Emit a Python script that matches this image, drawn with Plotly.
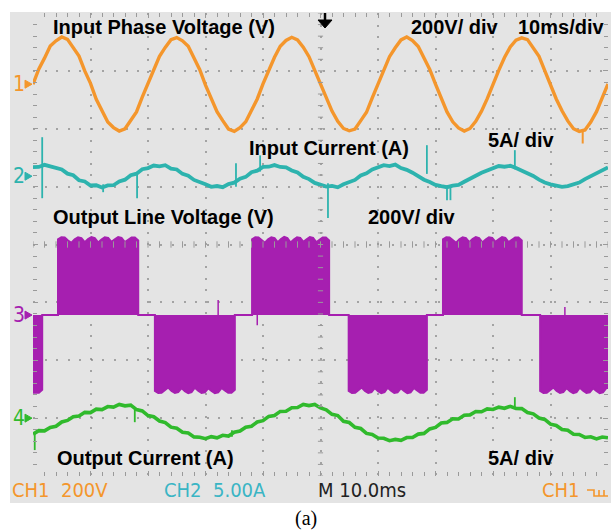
import plotly.graph_objects as go

# ---------------- data ----------------
t_ms = list(range(0, 101))  # 1 ms samples, 10 ms/div x 10 div

ch1_volts = [
    0, 52, 90, 132, 150, 163, 155, 126, 97, 46, 3, -52, -91, -131, -150, -162, -154, -127, -96, -45,
    2, 51, 96, 127, 154, 161, 150, 131, 92, 50, -3, -47, -95, -126, -155, -163, -150, -130, -91, -51,
    1, 47, 93, 131, 151, 162, 153, 128, 95, 48, 2, -50, -93, -128, -153, -161, -155, -126, -97, -47,
    -1, 50, 95, 126, 153, 163, 151, 130, 91, 51, 0, -48, -96, -130, -151, -162, -153, -128, -93, -50,
    3, 48, 92, 129, 152, 160, 154, 127, 96, 47, -2, -51, -92, -127, -154, -163, -158, -131, -95, -48,
    1]

ch2_amps = [
    0.78, 0.80, 0.98, 0.82, 0.70, 0.58, 0.22, 0.08, -0.35, -0.45, -0.80, -0.78, -0.98, -0.80, -0.78, -0.45, -0.30, 0.08, 0.22, 0.60,
    0.70, 0.92, 0.85, 0.95, 0.66, 0.58, 0.20, 0.05, -0.32, -0.48, -0.70, -0.92, -0.85, -0.95, -0.68, -0.56, -0.22, -0.06, 0.35, 0.48,
    0.80, 0.82, 0.96, 0.80, 0.76, 0.50, 0.32, -0.05, -0.25, -0.58, -0.70, -0.90, -0.84, -0.96, -0.70, -0.50, -0.32, 0.06, 0.25, 0.58,
    0.78, 0.95, 0.88, 1.00, 0.70, 0.55, 0.30, -0.02, -0.30, -0.50, -0.75, -0.86, -0.95, -0.82, -0.76, -0.48, -0.26, 0.04, 0.30, 0.50,
    0.75, 0.88, 0.82, 0.90, 0.70, 0.50, 0.28, 0.02, -0.30, -0.55, -0.70, -0.85, -0.92, -0.86, -0.70, -0.55, -0.25, 0.00, 0.30, 0.50,
    0.76]

ch4_amps = [
    -1.38, -1.08, -1.10, -0.80, -0.70, -0.33, -0.20, 0.12, 0.18, 0.50, 0.48, 0.78, 0.74, 1.00, 0.95, 1.18, 1.06, 1.12, 0.74, 0.62,
    0.22, 0.12, -0.25, -0.38, -0.78, -0.88, -1.22, -1.28, -1.62, -1.65, -1.78, -1.60, -1.70, -1.48, -1.55, -1.22, -1.12, -0.78, -0.70, -0.33,
    -0.22, 0.15, 0.22, 0.58, 0.60, 0.90, 0.92, 1.18, 1.08, 1.18, 0.88, 0.72, 0.33, 0.22, -0.28, -0.38, -0.80, -0.90, -1.32, -1.42,
    -1.72, -1.74, -1.95, -1.84, -1.92, -1.68, -1.67, -1.38, -1.32, -0.93, -0.80, -0.42, -0.37, -0.05, -0.07, 0.25, 0.28, 0.57, 0.55, 0.80,
    0.75, 0.95, 0.85, 1.02, 0.83, 0.82, 0.48, 0.37, 0.01, -0.11, -0.52, -0.63, -0.99, -1.05, -1.39, -1.41, -1.67, -1.61, -1.80, -1.63,
    -1.70]

# spikes: time (ms), low and high value
ch1_spike_t = [95.6]
ch1_spike_lo = [-205]
ch1_spike_hi = [-158]

ch2_spike_t = [1.6, 12.2, 18.1, 35.3, 39.5, 51.3, 68.5, 72.0, 72.6, 83.8]
ch2_spike_lo = [-1.90, -1.38, -1.90, -0.90, 0.40, -3.60, 0.20, -2.07, -2.07, 0.60]
ch2_spike_hi = [3.37, -0.70, 0.30, 1.12, 1.80, -0.60, 2.68, -0.80, -0.80, 2.25]

ch4_spike_t = [0.3, 17.7, 34.6, 83.8]
ch4_spike_lo = [-2.76, -0.35, -1.60, 0.90]
ch4_spike_hi = [-1.30, 0.74, -1.04, 1.81]

# output line voltage: PWM blocks (filled on screen) with rippled envelope
ch3_block_start = [0.0, 4.35, 21.2, 38.1, 54.9, 71.3, 88.2]
ch3_block_end = [1.6, 18.3, 35.1, 51.5, 68.5, 85.0, 100.0]
ch3_block_sign = [-1, 1, -1, 1, -1, 1, -1]
ch3_envelope_v = [262, 269, 268, 258, 250, 262, 269, 266, 252, 263, 270, 266, 251,
                  261, 269, 267, 253, 262, 270, 267, 252, 260, 268, 268, 258]
ch3_block_len_ms = 13.8
ch3_spike_t = [32.2, 39.0, 92.5]
ch3_spike_v = [52, -35, 28]

# channel settings (units per division, offset in divisions)
ch_per_div = {1: 200, 2: 5, 3: 200, 4: 5}
ch_offset = {1: 2.77, 2: 1.18, 3: -1.22, 4: -3.0}

ORANGE = "#f4962c"
TEAL = "#2db3ae"
MAGENTA = "#a61fb0"
GREEN = "#30ba2c"
BEZEL = "#e4e4e4"
GRID = "rgba(110,110,110,0.55)"
TICK = "#9a9a9a"

W, H = 611, 531
ML, MR, MT, MB = 33, 3, 13, 55


def px(x):
    return (x - ML) / (W - ML - MR)


def py(y):
    return (H - MB - y) / (H - MT - MB)


def spikes(ts, lo, hi):
    xs, ys = [], []
    for a, b, c in zip(ts, lo, hi):
        xs += [a, a, None]
        ys += [b, c, None]
    return xs, ys


# build the magenta waveform
n_env = len(ch3_envelope_v)
mx, my = [], []
for s, e, sg in zip(ch3_block_start, ch3_block_end, ch3_block_sign):
    if s <= 0:
        ts = [e - ch3_block_len_ms + ch3_block_len_ms * i / (n_env - 1) for i in range(n_env)]
    elif e >= 100:
        ts = [s + ch3_block_len_ms * i / (n_env - 1) for i in range(n_env)]
    else:
        ts = [s + (e - s) * i / (n_env - 1) for i in range(n_env)]
    seg = [(tt, sg * v) for tt, v in zip(ts, ch3_envelope_v) if 0 <= tt <= 100]
    sx = [p[0] for p in seg]
    sy = [p[1] for p in seg]
    if s > 0:
        sx = [s] + sx
        sy = [0] + sy
    else:
        sx = [0] + sx
        sy = [sy[0]] + sy
    if e < 100:
        sx = sx + [e]
        sy = sy + [0]
    else:
        sx = sx + [100]
        sy = sy + [sy[-1]]
    mx += sx
    my += sy

fig = go.Figure()

fig.add_trace(go.Scatter(x=mx, y=my, yaxis="y4", mode="lines", fill="tozeroy",
                         fillcolor=MAGENTA, line=dict(color=MAGENTA, width=2)))
sx, sy = [], []
for a, v in zip(ch3_spike_t, ch3_spike_v):
    sx += [a, a, None]
    sy += [0, v, None]
fig.add_trace(go.Scatter(x=sx, y=sy, yaxis="y4", mode="lines", line=dict(color=MAGENTA, width=1.5)))

fig.add_trace(go.Scatter(x=t_ms, y=ch1_volts, yaxis="y2", mode="lines",
                         line=dict(color=ORANGE, width=3.4)))
xs, ys = spikes(ch1_spike_t, ch1_spike_lo, ch1_spike_hi)
fig.add_trace(go.Scatter(x=xs, y=ys, yaxis="y2", mode="lines", line=dict(color=ORANGE, width=2)))

fig.add_trace(go.Scatter(x=t_ms, y=ch2_amps, yaxis="y3", mode="lines",
                         line=dict(color=TEAL, width=3.8)))
xs, ys = spikes(ch2_spike_t, ch2_spike_lo, ch2_spike_hi)
fig.add_trace(go.Scatter(x=xs, y=ys, yaxis="y3", mode="lines", line=dict(color=TEAL, width=1.8)))

fig.add_trace(go.Scatter(x=t_ms, y=ch4_amps, yaxis="y5", mode="lines",
                         line=dict(color=GREEN, width=3.6)))
xs, ys = spikes(ch4_spike_t, ch4_spike_lo, ch4_spike_hi)
fig.add_trace(go.Scatter(x=xs, y=ys, yaxis="y5", mode="lines", line=dict(color=GREEN, width=1.8)))


def ch_axis(ch):
    off, sc = ch_offset[ch], ch_per_div[ch]
    return dict(overlaying="y", range=[(-4 - off) * sc, (4 - off) * sc], visible=False, fixedrange=True)


shapes = []
# scope bezel
shapes.append(dict(type="rect", xref="paper", yref="paper", x0=px(10), x1=px(611), y0=py(503), y1=py(12),
                   fillcolor=BEZEL, line=dict(width=0), layer="below"))
# centre graticule tick marks
for k in range(51):
    xv = k * 2
    shapes.append(dict(type="line", xref="x", yref="y", x0=xv, x1=xv, y0=-0.055, y1=0.055,
                       line=dict(color=TICK, width=1), layer="above"))
for k in range(41):
    yv = -4 + k * 0.2
    shapes.append(dict(type="line", xref="x", yref="y", x0=50 - 0.45, x1=50 + 0.45, y0=yv, y1=yv,
                       line=dict(color=TICK, width=1), layer="above"))
# trigger position arrow (top)
shapes.append(dict(type="path", xref="paper", yref="paper",
                   path=f"M{px(325)},{py(13)} L{px(325)},{py(21)}",
                   line=dict(color="black", width=2.5)))
shapes.append(dict(type="path", xref="paper", yref="paper",
                   path=f"M{px(318)},{py(20)} L{px(332)},{py(20)} L{px(325)},{py(28)} Z",
                   fillcolor="black", line=dict(color="black", width=1)))
# channel ground markers (arrow heads)
ch_colors = {1: ORANGE, 2: TEAL, 3: MAGENTA, 4: GREEN}
for ch in (1, 2, 3, 4):
    yc = (ch_offset[ch] + 4) / 8
    dy = 4 / (H - MT - MB)
    shapes.append(dict(type="path", xref="paper", yref="paper",
                       path=f"M{px(25)},{yc + dy} L{px(32)},{yc} L{px(25)},{yc - dy} Z",
                       fillcolor=ch_colors[ch], line=dict(color=ch_colors[ch], width=1)))
# trigger type symbol (bottom right)
shapes.append(dict(type="path", xref="paper", yref="paper",
                   path=(f"M{px(587)},{py(490)} L{px(594)},{py(490)} L{px(594)},{py(496)} "
                         f"L{px(608)},{py(496)} M{px(599)},{py(496)} L{px(599)},{py(490)} "
                         f"M{px(604)},{py(496)} L{px(604)},{py(490)}"),
                   line=dict(color=ORANGE, width=1.6)))

BOLD = dict(family="Liberation Sans, Arial, sans-serif", size=20, color="black")
SCOPE = "Liberation Sans Narrow, DejaVu Sans Condensed, sans-serif"

annotations = []


def label(text, x, y, font, xanchor="left"):
    annotations.append(dict(text=text, x=px(x), y=py(y), xref="paper", yref="paper",
                            xanchor=xanchor, yanchor="middle", showarrow=False, font=font))


label("<b>Input Phase Voltage (V)</b>", 51, 27, BOLD)
label("<b>200V/ div</b>", 409, 27, BOLD)
label("<b>10ms/div</b>", 516, 27, BOLD)
label("<b>Input Current (A)</b>", 247, 148, BOLD)
label("<b>5A/ div</b>", 486, 140, BOLD)
label("<b>Output Line Voltage (V)</b>", 51, 217, BOLD)
label("<b>200V/ div</b>", 366, 217, BOLD)
label("<b>Output Current (A)</b>", 55, 458, BOLD)
label("<b>5A/ div</b>", 486, 458, BOLD)

for ch in (1, 2, 3, 4):
    yc_px = (H - MB) - (ch_offset[ch] + 4) / 8 * (H - MT - MB)
    label(str(ch), 19, yc_px, dict(family=SCOPE, size=21, color=ch_colors[ch]), xanchor="center")

label("CH1&nbsp;&nbsp;200V", 10, 490, dict(family=SCOPE, size=20, color=ORANGE))
label("CH2&nbsp;&nbsp;5.00A", 162, 490, dict(family=SCOPE, size=20, color="#3ab5c4"))
label("M 10.0ms", 316, 490, dict(family=SCOPE, size=20, color="#222222"))
label("CH1", 540, 490, dict(family=SCOPE, size=20, color=ORANGE))
label("(a)", 306, 518, dict(family="Liberation Serif, Times New Roman, serif", size=20, color="black"),
      xanchor="center")

fig.update_layout(
    width=W, height=H,
    margin=dict(l=ML, r=MR, t=MT, b=MB, pad=0),
    paper_bgcolor="white", plot_bgcolor="white",
    showlegend=False,
    hovermode=False,
    xaxis=dict(range=[0, 100], dtick=10, showgrid=True, gridcolor=GRID, gridwidth=2,
               griddash="2px,9.5px", zeroline=False, showticklabels=False,
               ticks="inside", ticklen=5, tickcolor=TICK, mirror="ticks", showline=False,
               minor=dict(dtick=2, ticks="inside", ticklen=4, tickcolor=TICK, showgrid=False),
               layer="above traces", fixedrange=True),
    yaxis=dict(range=[-4, 4], dtick=1, showgrid=True, gridcolor=GRID, gridwidth=2,
               griddash="2px,9.58px", zeroline=False, showticklabels=False,
               ticks="inside", ticklen=5, tickcolor=TICK, mirror="ticks", showline=False,
               minor=dict(dtick=0.2, ticks="inside", ticklen=4, tickcolor=TICK, showgrid=False),
               layer="above traces", fixedrange=True),
    yaxis2=ch_axis(1),
    yaxis3=ch_axis(2),
    yaxis4=ch_axis(3),
    yaxis5=ch_axis(4),
    shapes=shapes,
    annotations=annotations,
)

fig.write_html("out.html", config={"displayModeBar": False},
               post_script="document.body.style.margin='0';document.body.style.overflow='hidden';")
